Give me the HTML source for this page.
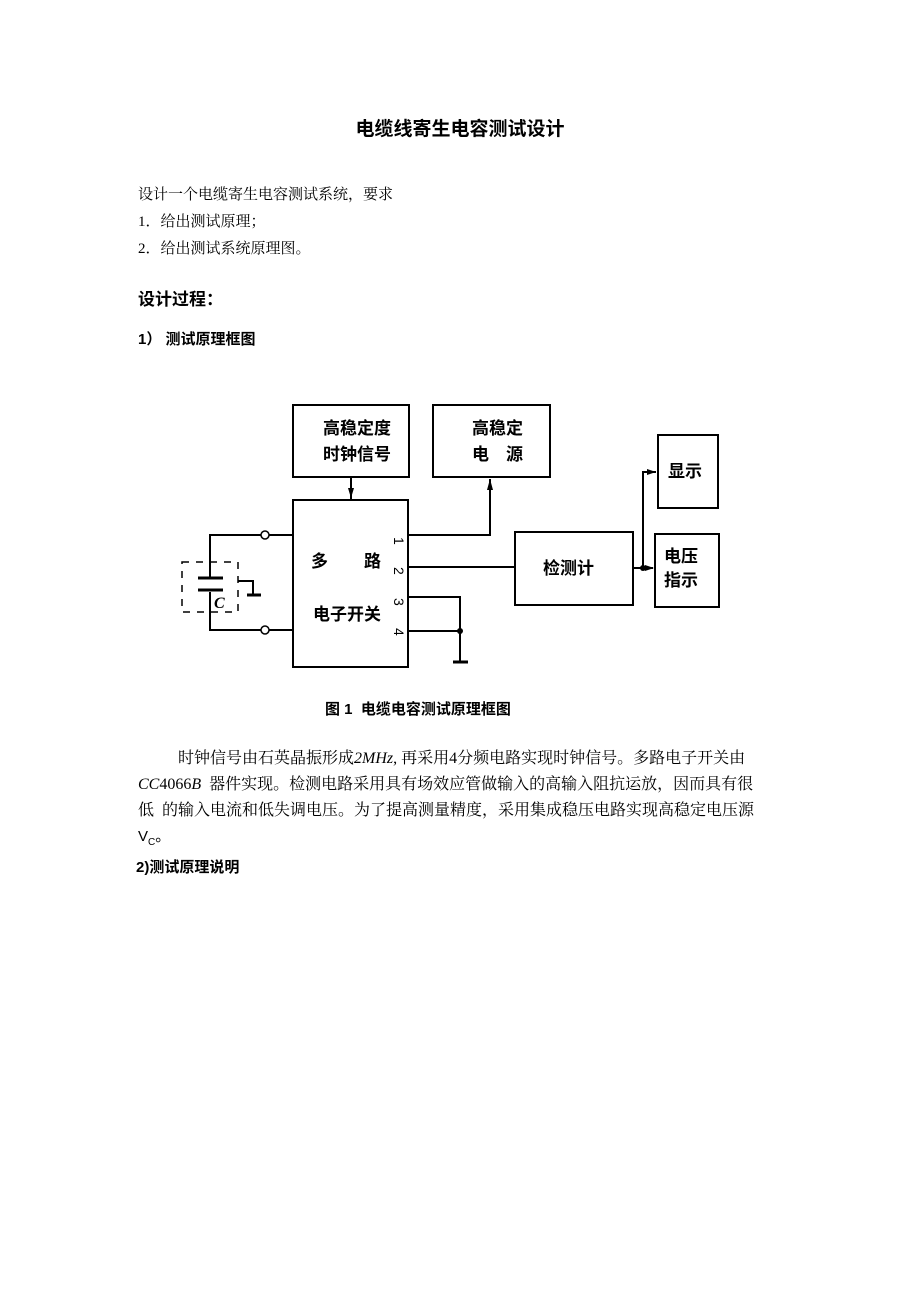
<!DOCTYPE html>
<html><head><meta charset="utf-8"><style>
body{margin:0;width:920px;height:1302px;background:#fff;position:relative;font-family:"Liberation Sans","Noto Sans CJK SC",sans-serif;color:#000}
.t{position:absolute;white-space:nowrap;line-height:1}
.s{font-family:"Liberation Serif","Noto Serif CJK SC","Noto Sans CJK SC",serif}
</style></head><body>
<div class="t" style="left:0;width:920px;text-align:center;top:120px;font-size:19px;font-weight:bold">电缆线寄生电容测试设计</div>
<div class="t s" style="left:138px;top:188px;font-size:15px">设计一个电缆寄生电容测试系统，要求</div>
<div class="t s" style="left:138px;top:215px;font-size:15px">1．给出测试原理；</div>
<div class="t s" style="left:138px;top:242px;font-size:15px">2．给出测试系统原理图。</div>
<div class="t" style="left:138px;top:291px;font-size:17px;font-weight:bold">设计过程：</div>
<div class="t" style="left:138px;top:332px;font-size:15px;font-weight:bold">1） 测试原理框图</div>

<svg style="position:absolute;left:0;top:0" width="920" height="700">
<g fill="none" stroke="#000" stroke-width="2">
<rect x="293" y="405" width="116" height="72"/>
<rect x="433" y="405" width="117" height="72"/>
<rect x="293" y="500" width="115" height="167"/>
<rect x="515" y="532" width="118" height="73"/>
<rect x="658" y="435" width="60" height="73"/>
<rect x="655" y="534" width="64" height="73"/>
<line x1="351" y1="477" x2="351" y2="500"/>
<polyline points="408,535 490,535 490,479"/>
<line x1="408" y1="567" x2="515" y2="567"/>
<polyline points="408,597 460,597 460,661"/>
<line x1="408" y1="631" x2="460" y2="631"/>
<line x1="453" y1="662" x2="468" y2="662" stroke-width="3"/>
<line x1="633" y1="568" x2="653" y2="568"/>
<polyline points="643,568 643,472 656,472"/>
<polyline points="269,535 293,535"/><polyline points="269,630 293,630"/>
<polyline points="261,535 210,535 210,578"/>
<polyline points="261,630 210,630 210,592"/>
<line x1="198" y1="578" x2="223" y2="578" stroke-width="3"/>
<line x1="198" y1="590" x2="223" y2="590" stroke-width="3"/>
<polyline points="238,581 253,581 253,594"/>
<line x1="247" y1="595" x2="261" y2="595" stroke-width="3"/>
<rect x="182" y="562" width="56" height="50" stroke-dasharray="7,7" stroke-width="1.5"/>
</g>
<circle cx="265" cy="535" r="4" fill="#fff" stroke="#000" stroke-width="1.5"/>
<circle cx="265" cy="630" r="4" fill="#fff" stroke="#000" stroke-width="1.5"/>
<circle cx="460" cy="631" r="3" fill="#000"/>
<circle cx="643" cy="568" r="3" fill="#000"/>
<path d="M348 488 L351 498 L354 488Z M487 490 L490 479 L493 490Z M647 469 L656 472 L647 475Z M645 565 L654 568 L645 571Z" fill="#000"/>
<g font-family="Liberation Sans,Noto Sans CJK SC,sans-serif" font-weight="bold" font-size="17">
<text x="323" y="434">高稳定度</text><text x="323" y="460">时钟信号</text>
<text x="472" y="434">高稳定</text><text x="472" y="460">电　源</text>
<text x="311" y="567">多</text><text x="364" y="567">路</text>
<text x="313" y="620">电子开关</text>
<text x="543" y="574">检测计</text>
<text x="668" y="477">显示</text>
<text x="664" y="562">电压</text><text x="664" y="586">指示</text>
<text x="214" y="608" font-style="italic" font-family="Liberation Serif,serif" font-size="16">C</text>
</g>
<g font-family="Liberation Sans,sans-serif" font-size="14">
<text transform="translate(394,537) rotate(90)">1</text>
<text transform="translate(394,567) rotate(90)">2</text>
<text transform="translate(394,598) rotate(90)">3</text>
<text transform="translate(394,628) rotate(90)">4</text>
</g>
</svg>

<div class="t" style="left:325px;top:702px;font-size:15px;font-weight:bold">图 1&nbsp; 电缆电容测试原理框图</div>
<div class="t s" style="left:178px;top:751px;font-size:16px">时钟信号由石英晶振形成<i>2MHz</i>, 再采用4分频电路实现时钟信号。多路电子开关由</div>
<div class="t s" style="left:138px;top:777px;font-size:16px"><i>CC</i>4066<i>B</i>&nbsp; 器件实现。检测电路采用具有场效应管做输入的高输入阻抗运放，因而具有很</div>
<div class="t s" style="left:138px;top:803px;font-size:16px">低&nbsp; 的输入电流和低失调电压。为了提高测量精度，采用集成稳压电路实现高稳定电压源</div>
<div class="t" style="left:138px;top:829px;font-size:15px">V<sub style="font-size:10px">C</sub>。</div>
<div class="t" style="left:136px;top:860px;font-size:15px;font-weight:bold">2)测试原理说明</div>
</body></html>
